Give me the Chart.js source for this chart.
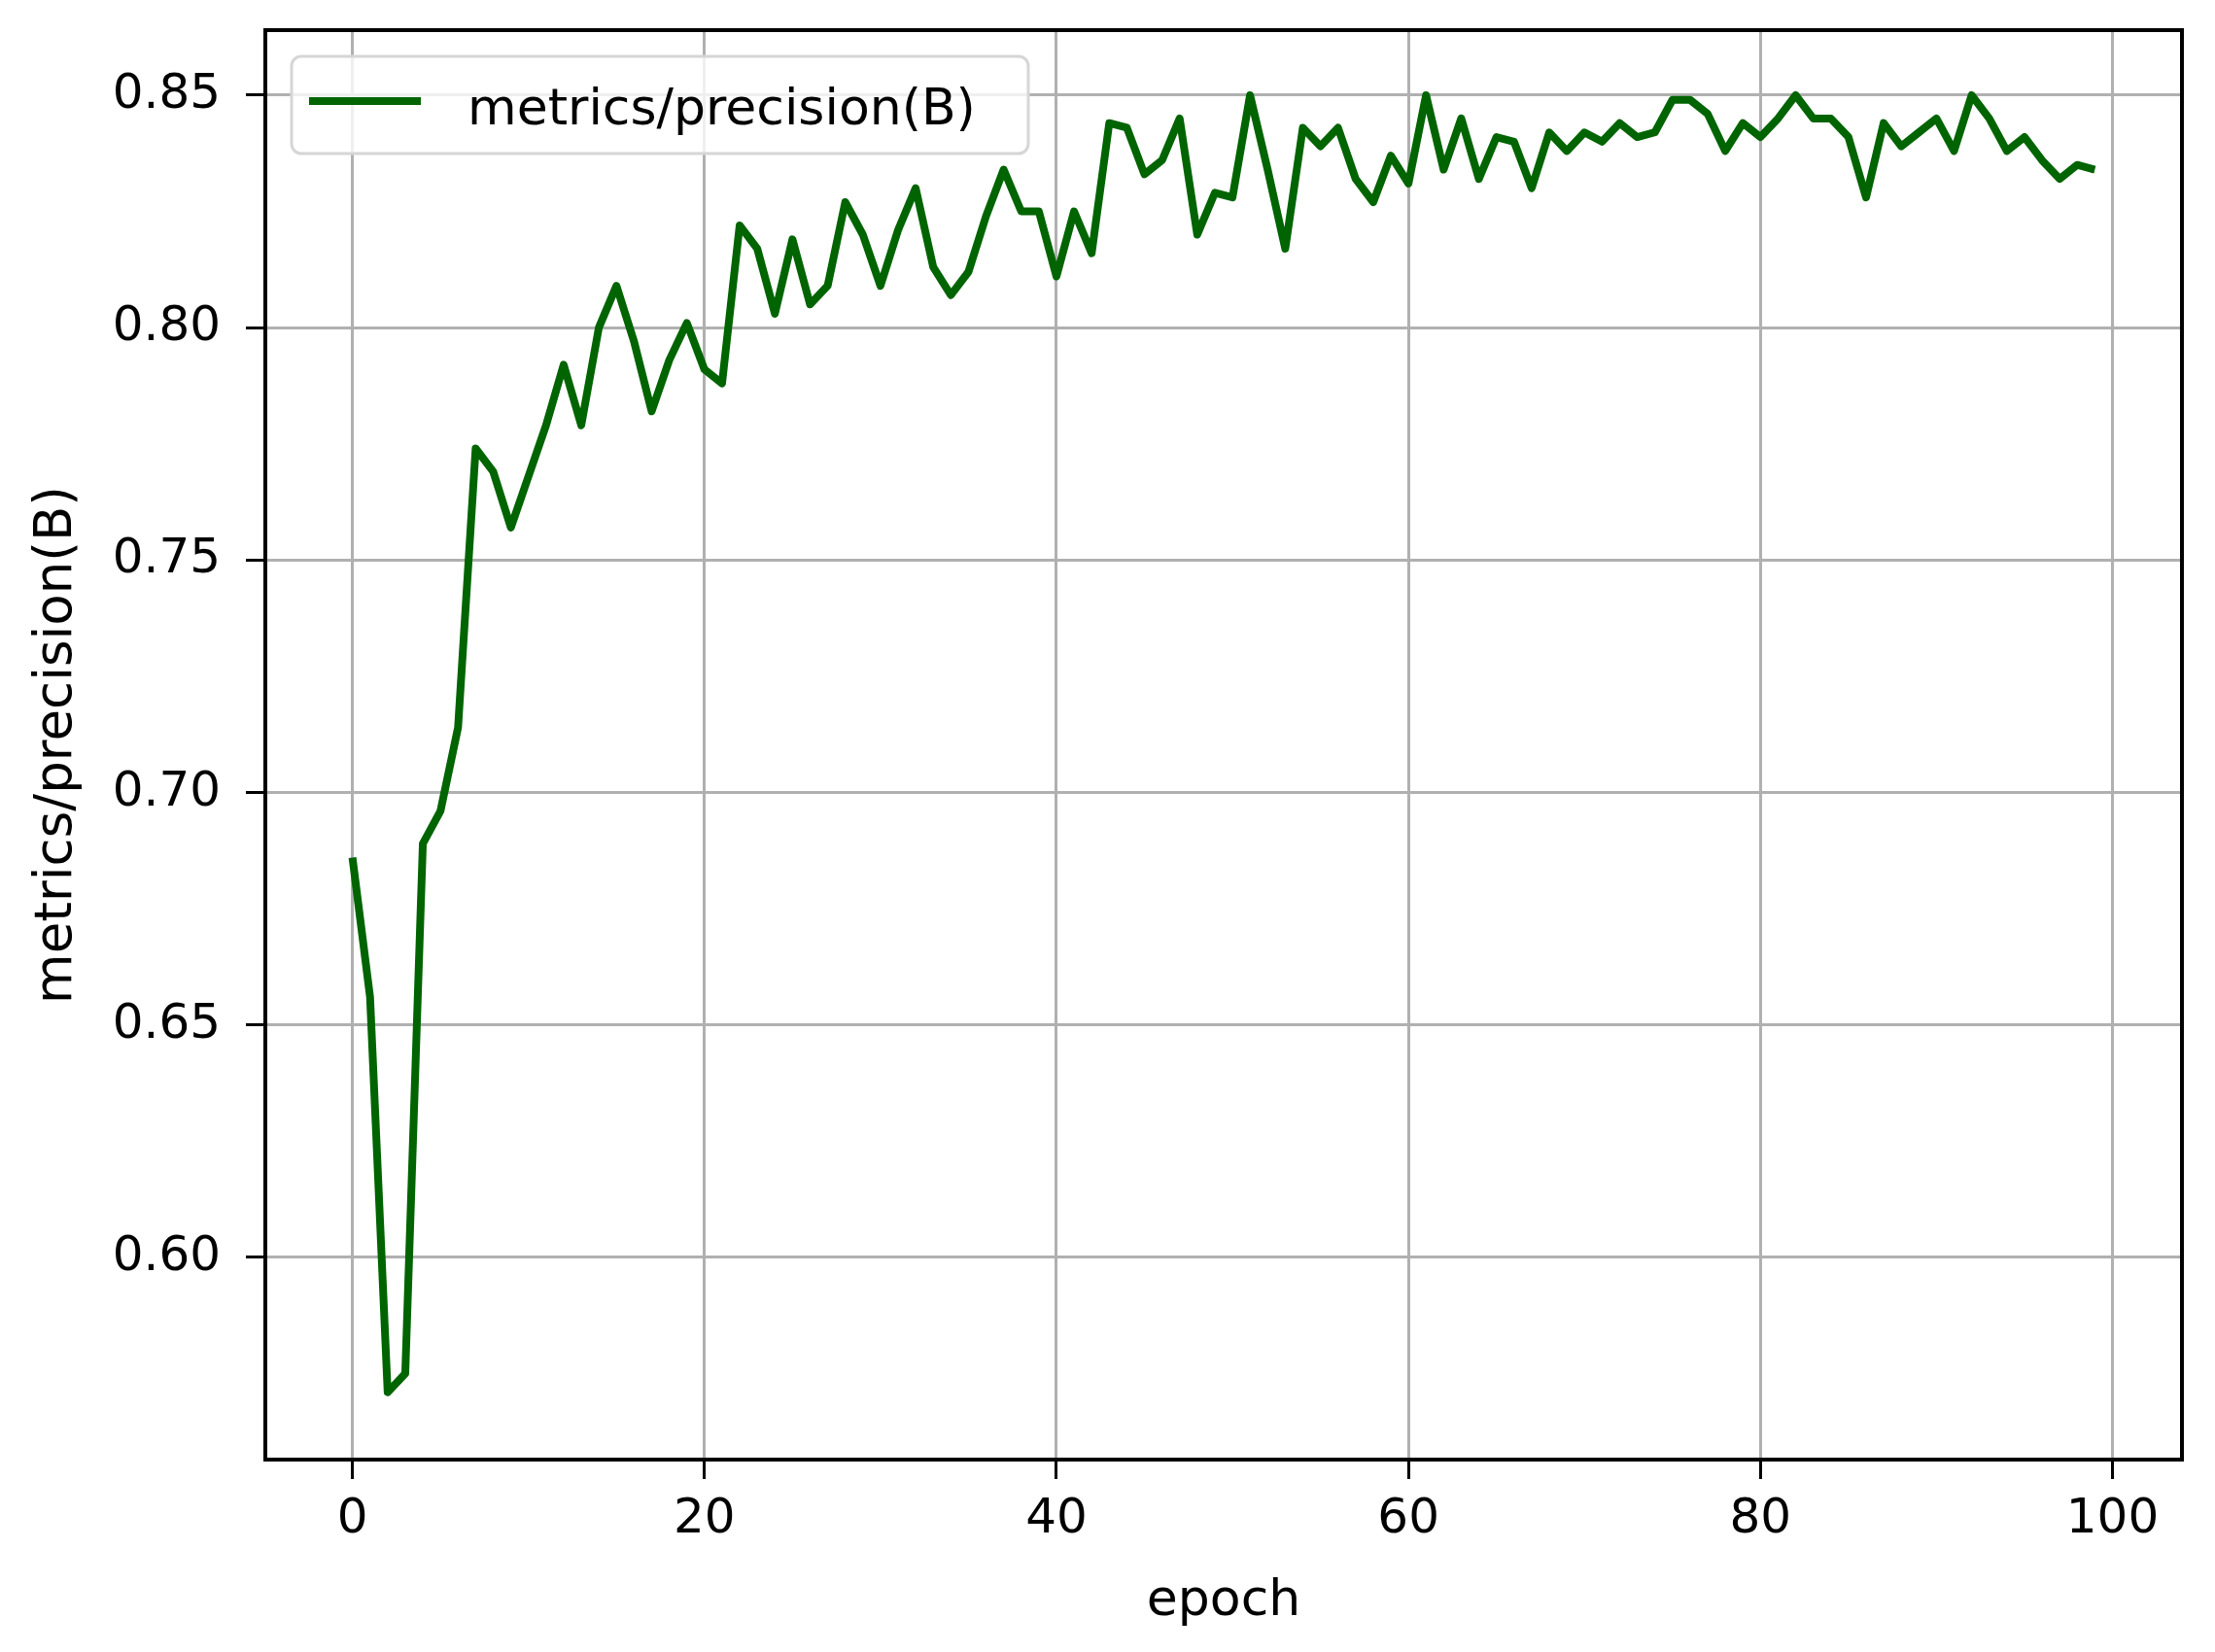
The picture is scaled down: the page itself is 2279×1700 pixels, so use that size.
<!DOCTYPE html>
<html>
<head>
<meta charset="utf-8">
<script src="https://cdn.jsdelivr.net/npm/chart.js@4.4.1/dist/chart.umd.min.js"></script>
<style>
    html, body { margin: 0; padding: 0; background: #fff; }
</style>
</head>
<body>
<canvas id="precisionChart" width="2279" height="1700"></canvas>
<script>
// данные
const epochs = Array.from({ length: 100 }, (_, i) => i);
const precision = [
    0.686, 0.656, 0.571, 0.575, 0.689, 0.696, 0.714, 0.774, 0.769, 0.757,
    0.768, 0.779, 0.792, 0.779, 0.800, 0.809, 0.797, 0.782, 0.793, 0.801,
    0.791, 0.788, 0.822, 0.817, 0.803, 0.819, 0.805, 0.809, 0.827, 0.820,
    0.809, 0.821, 0.830, 0.813, 0.807, 0.812, 0.824, 0.834, 0.825, 0.825,
    0.811, 0.825, 0.816, 0.844, 0.843, 0.833, 0.836, 0.845, 0.820, 0.829,
    0.828, 0.850, 0.834, 0.817, 0.843, 0.839, 0.843, 0.832, 0.827, 0.837,
    0.831, 0.850, 0.834, 0.845, 0.832, 0.841, 0.840, 0.830, 0.842, 0.838,
    0.842, 0.840, 0.844, 0.841, 0.842, 0.849, 0.849, 0.846, 0.838, 0.844,
    0.841, 0.845, 0.850, 0.845, 0.845, 0.841, 0.828, 0.844, 0.839, 0.842,
    0.845, 0.838, 0.850, 0.845, 0.838, 0.841, 0.836, 0.832, 0.835, 0.834
];
const xTicks = [0, 20, 40, 60, 80, 100];
const yTicks = [0.60, 0.65, 0.70, 0.75, 0.80, 0.85];
const xRange = [-4.95, 103.95];
const yRange = [0.5565, 0.8640];
const seriesLabel = 'metrics/precision(B)';
const xTitle = 'epoch';
const yTitle = 'metrics/precision(B)';

const lineColor = '#006400';
const fontFamily = "'DejaVu Sans', sans-serif";

// рамка осей и легенда в стиле matplotlib
const frameAndLegend = {
    id: 'frameAndLegend',
    afterDraw(chart) {
        const { ctx, chartArea: a } = chart;
        ctx.save();
        ctx.strokeStyle = '#000';
        ctx.lineWidth = 4;
        ctx.strokeRect(a.left, a.top, a.right - a.left, a.bottom - a.top);

        const bx = a.left + 27, by = a.top + 27, bw = 758, bh = 100;
        ctx.beginPath();
        ctx.roundRect(bx, by, bw, bh, 10);
        ctx.fillStyle = 'rgba(255,255,255,0.8)';
        ctx.fill();
        ctx.strokeStyle = '#d6d6d6';
        ctx.lineWidth = 3;
        ctx.stroke();

        ctx.beginPath();
        ctx.moveTo(bx + 18, by + 46);
        ctx.lineTo(bx + 133, by + 46);
        ctx.strokeStyle = lineColor;
        ctx.lineWidth = 8;
        ctx.stroke();

        ctx.fillStyle = '#000';
        ctx.font = `52px ${fontFamily}`;
        ctx.textBaseline = 'alphabetic';
        ctx.textAlign = 'left';
        ctx.fillText(seriesLabel, bx + 181, by + 70);
        ctx.restore();
    }
};

// убираем автоматические отступы под крайние подписи
function fixPadding(scale) {
    scale.paddingTop = 0;
    scale.paddingBottom = 0;
    scale.paddingLeft = 0;
    scale.paddingRight = 0;
}

const ctx = document.getElementById('precisionChart').getContext('2d');
const chartInstance = new Chart(ctx, {
    type: 'line',
    data: {
        datasets: [{
            label: seriesLabel,
            data: precision.map((v, i) => ({ x: epochs[i], y: v })),
            borderColor: lineColor,
            borderWidth: 8,
            borderJoinStyle: 'round',
            pointRadius: 0,
            tension: 0,
            fill: false
        }]
    },
    options: {
        responsive: false,
        devicePixelRatio: 1,
        animation: false,
        layout: { padding: { left: 0, top: 31, right: 34, bottom: 0 } },
        plugins: {
            legend: { display: false },
            tooltip: { enabled: false }
        },
        scales: {
            x: {
                type: 'linear',
                min: xRange[0],
                max: xRange[1],
                afterBuildTicks: axis => { axis.ticks = xTicks.map(v => ({ value: v })); },
                afterFit: scale => { scale.height = 198; fixPadding(scale); },
                grid: { color: '#b0b0b0', lineWidth: 3, tickColor: '#000', tickWidth: 3, tickLength: 20 },
                border: { color: '#000', width: 4 },
                ticks: {
                    color: '#000',
                    padding: 12,
                    maxRotation: 0,
                    font: { family: fontFamily, size: 50 },
                    callback: v => String(v)
                },
                title: {
                    display: true,
                    text: xTitle,
                    color: '#000',
                    font: { family: fontFamily, size: 52 },
                    padding: { top: 0, bottom: 20 }
                }
            },
            y: {
                type: 'linear',
                min: yRange[0],
                max: yRange[1],
                afterBuildTicks: axis => { axis.ticks = yTicks.map(v => ({ value: v })); },
                afterFit: scale => { scale.width = 273; fixPadding(scale); },
                grid: { color: '#b0b0b0', lineWidth: 3, tickColor: '#000', tickWidth: 3, tickLength: 20 },
                border: { color: '#000', width: 4 },
                ticks: {
                    color: '#000',
                    padding: 26,
                    font: { family: fontFamily, size: 50 },
                    callback: v => v.toFixed(2)
                },
                title: {
                    display: true,
                    text: yTitle,
                    color: '#000',
                    font: { family: fontFamily, size: 53 },
                    padding: { top: 27, bottom: 0 }
                }
            }
        }
    },
    plugins: [frameAndLegend]
});
</script>
</body>
</html>
